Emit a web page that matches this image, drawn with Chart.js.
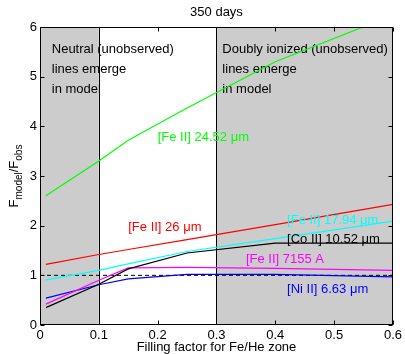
<!DOCTYPE html>
<html>
<head>
<meta charset="utf-8">
<script src="https://cdn.jsdelivr.net/npm/chart.js@4"></script>
<style>
  html, body { margin: 0; padding: 0; background: #fff; }
  canvas { display: block; }
</style>
</head>
<body>
<canvas id="myChart" width="405" height="354"></canvas>
<script>
// filling factors the models were run at
const fillFactors = [0.01, 0.1, 0.15, 0.25, 0.4, 0.6];

// F_model / F_obs per line
const feII2452 = [2.6, 3.3, 3.72, 4.37, 5.3, 6.24];
const feII26   = [1.22, 1.42, 1.52, 1.72, 2.02, 2.43];
const feII1794 = [0.91, 1.1, 1.23, 1.48, 1.74, 2.09];
const coII1052 = [0.35, 0.82, 1.13, 1.45, 1.65, 1.65];
const feII7155 = [0.42, 0.9, 1.15, 1.16, 1.14, 1.1];
const niII663  = [0.54, 0.81, 0.93, 1.02, 1.02, 0.97];

const lineNames = ['[Fe II] 24.52 \u03bcm', '[Fe II] 26 \u03bcm', '[Fe II] 17.94 \u03bcm',
                   '[Co II] 10.52 \u03bcm', '[Fe II] 7155 A', '[Ni II] 6.63 \u03bcm'];
const lineColors = ['#00ff00', '#ff0000', '#00ffff', '#000000', '#ff00ff', '#0000ff'];
// where each label sits (data coords, left/baseline)
const labelX = [0.2, 0.15, 0.42, 0.42, 0.35, 0.42];
const labelY = [3.70, 1.90, 2.03, 1.655, 1.25, 0.65];

// shaded zones
const shadedZones = [[0, 0.1], [0.3, 0.6]];
const zoneEdges = [0.1, 0.3];
const zoneText = [
  ['Neutral (unobserved)', 'lines emerge', 'in model'],
  ['Doubly ionized (unobserved)', 'lines emerge', 'in model']
];
const zoneTextX = [0.02, 0.31];
const zoneTextY = [5.485, 5.08, 4.68];

const FONT = '13px "Liberation Sans", Arial, sans-serif';

const series = [feII2452, feII26, feII1794, coII1052, feII7155, niII663];
const datasets = series.map((vals, i) => ({
  label: lineNames[i],
  data: fillFactors.map((f, j) => ({ x: f, y: vals[j] })),
  borderColor: lineColors[i],
  borderWidth: 1.2,
  pointRadius: 0,
  tension: 0
}));
datasets.push({
  label: 'unity',
  data: [{ x: 0, y: 1 }, { x: 0.6, y: 1 }],
  borderColor: '#000',
  borderWidth: 1,
  borderDash: [4, 3],
  pointRadius: 0
});

const decor = {
  id: 'decor',
  beforeDatasetsDraw(chart) {
    const { ctx, chartArea: a, scales: { x, y } } = chart;
    ctx.save();
    ctx.fillStyle = '#cccccc';
    shadedZones.forEach(z => {
      const x0 = x.getPixelForValue(z[0]), x1 = x.getPixelForValue(z[1]);
      ctx.fillRect(x0, a.top, x1 - x0, a.bottom - a.top);
    });
    ctx.strokeStyle = '#000';
    ctx.lineWidth = 1;
    zoneEdges.forEach(v => {
      const px = Math.round(x.getPixelForValue(v)) + 0.5;
      ctx.beginPath(); ctx.moveTo(px, a.top); ctx.lineTo(px, a.bottom); ctx.stroke();
    });
    ctx.fillStyle = '#000';
    ctx.font = FONT;
    ctx.textAlign = 'left';
    ctx.textBaseline = 'alphabetic';
    zoneText.forEach((lines, i) => {
      lines.forEach((t, k) => {
        ctx.fillText(t, x.getPixelForValue(zoneTextX[i]), y.getPixelForValue(zoneTextY[k]));
      });
    });
    ctx.restore();
  },
  afterDatasetsDraw(chart) {
    const { ctx, scales: { x, y } } = chart;
    ctx.save();
    ctx.font = FONT;
    ctx.textAlign = 'left';
    ctx.textBaseline = 'alphabetic';
    lineNames.forEach((t, i) => {
      ctx.fillStyle = lineColors[i];
      ctx.fillText(t, x.getPixelForValue(labelX[i]), y.getPixelForValue(labelY[i]));
    });
    ctx.restore();
  },
  afterDraw(chart) {
    const { ctx, chartArea: a, scales: { x, y } } = chart;
    ctx.save();
    ctx.strokeStyle = '#000';
    ctx.lineWidth = 1;
    const L = Math.round(a.left) + 0.5, R = Math.round(a.right) - 0.5;
    const T = Math.round(a.top) + 0.5, B = Math.round(a.bottom) - 0.5;
    ctx.strokeRect(L, T, R - L, B - T);
    // inward ticks
    ctx.beginPath();
    x.ticks.forEach(t => {
      const px = Math.round(x.getPixelForValue(t.value)) + 0.5;
      ctx.moveTo(px, B); ctx.lineTo(px, B - 4);
      ctx.moveTo(px, T); ctx.lineTo(px, T + 4);
    });
    y.ticks.forEach(t => {
      const py = Math.round(y.getPixelForValue(t.value)) + 0.5;
      ctx.moveTo(L, py); ctx.lineTo(L + 4, py);
      ctx.moveTo(R, py); ctx.lineTo(R - 4, py);
    });
    ctx.stroke();

    ctx.fillStyle = '#000';
    ctx.font = FONT;
    ctx.textAlign = 'center';
    ctx.textBaseline = 'alphabetic';
    ctx.fillText('350 days', (a.left + a.right) / 2, 16);
    ctx.fillText('Filling factor for Fe/He zone', (a.left + a.right) / 2, 351);

    // y title F_model/F_obs
    ctx.translate(18, (a.top + a.bottom) / 2);
    ctx.rotate(-Math.PI / 2);
    const big = FONT, small = '10px "Liberation Sans", Arial, sans-serif';
    const parts = [['F', big, 0], ['model', small, 4], ['/F', big, 0], ['obs', small, 4]];
    let w = 0;
    parts.forEach(p => { ctx.font = p[1]; w += ctx.measureText(p[0]).width; });
    let cx = -w / 2;
    ctx.textAlign = 'left';
    parts.forEach(p => {
      ctx.font = p[1];
      ctx.fillText(p[0], cx, p[2]);
      cx += ctx.measureText(p[0]).width;
    });
    ctx.restore();
  }
};

const ctx = document.getElementById('myChart').getContext('2d');
const myChart = new Chart(ctx, {
  type: 'line',
  data: { datasets: datasets },
  options: {
    responsive: false,
    animation: false,
    devicePixelRatio: 1,
    layout: { padding: { top: 27, right: 9, left: 0, bottom: 0 } },
    plugins: { legend: { display: false }, tooltip: { enabled: false } },
    scales: {
      x: {
        type: 'linear',
        min: 0, max: 0.6,
        grid: { display: false, drawTicks: false },
        border: { display: false },
        ticks: { stepSize: 0.1, color: '#000', font: { size: 13, family: '"Liberation Sans", Arial, sans-serif' }, padding: 3, maxRotation: 0 },
        afterFit(scale) { scale.height = 29; }
      },
      y: {
        min: 0, max: 6,
        grid: { display: false, drawTicks: false },
        border: { display: false },
        ticks: { stepSize: 1, color: '#000', font: { size: 13, family: '"Liberation Sans", Arial, sans-serif' }, padding: 3 },
        afterFit(scale) { scale.width = 40; }
      }
    }
  },
  plugins: [decor]
});
</script>
</body>
</html>
